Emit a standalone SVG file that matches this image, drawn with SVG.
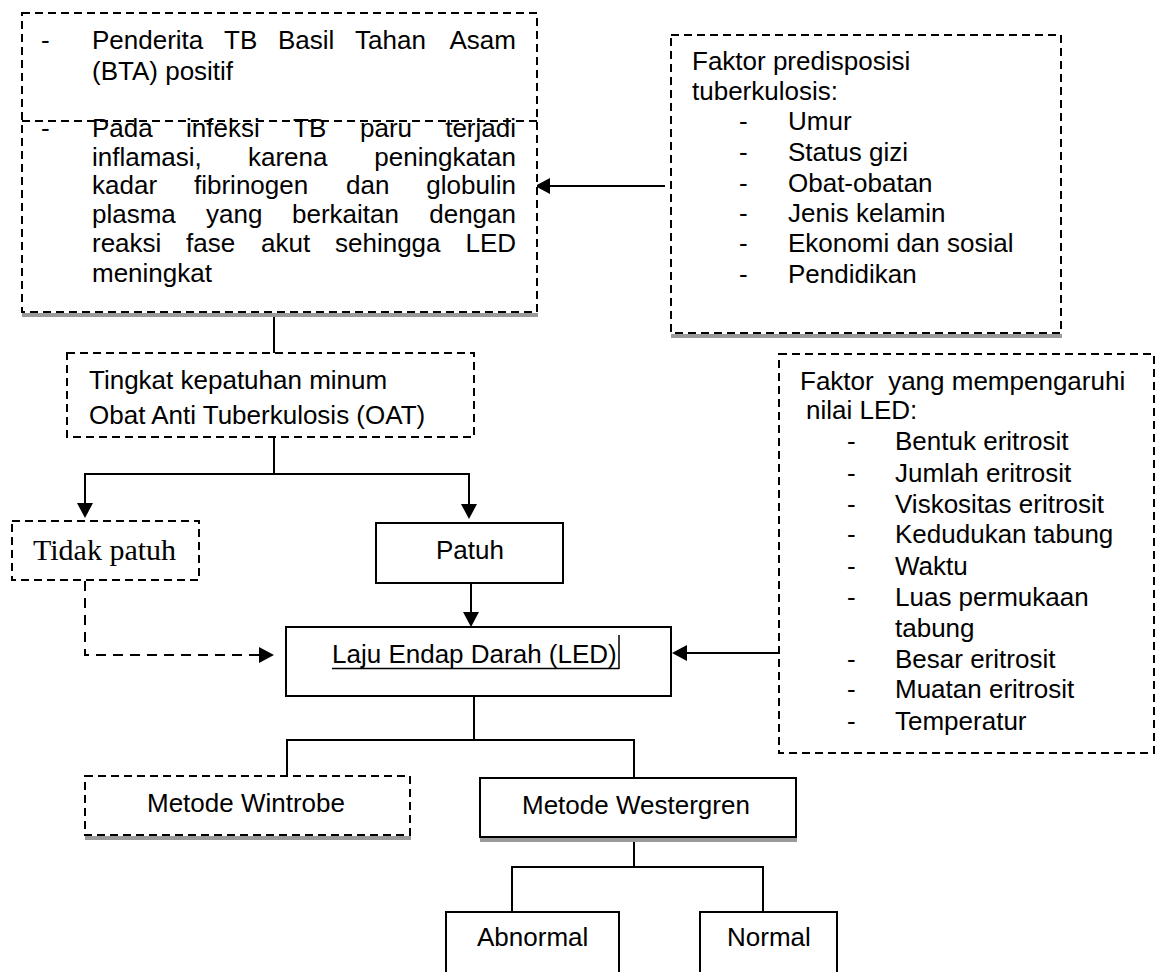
<svg xmlns="http://www.w3.org/2000/svg" width="1156" height="972" viewBox="0 0 1156 972">
<style>
.t{font-family:"Liberation Sans",Arial,sans-serif;font-size:26px;fill:#000}
.s{font-family:"Liberation Serif","Times New Roman",serif;font-size:30px;fill:#000}
.box{fill:#fff;stroke:#000;stroke-width:2}
.dbox{fill:#fff;stroke:#000;stroke-width:2;stroke-dasharray:8 5}
.shadow{fill:#9a9a9a}
.ln{fill:none;stroke:#000;stroke-width:2}
.dl{fill:none;stroke:#000;stroke-width:2;stroke-dasharray:10 7}
</style>
<defs>
<marker id="ah" markerUnits="userSpaceOnUse" markerWidth="16" markerHeight="16" refX="0" refY="8" orient="auto">
<path d="M0,0 L15,8 L0,16 z" fill="#000"/>
</marker>
</defs>
<rect width="1156" height="972" fill="#fff"/>

<g id="connectors">
<path class="ln" d="M665,186 H550" marker-end="url(#ah)"/>
<path class="ln" d="M274,313 V353"/>
<path class="ln" d="M274,437 V474"/>
<path class="ln" d="M274,474 H85 V503" marker-end="url(#ah)"/>
<path class="ln" d="M274,474 H469 V504" marker-end="url(#ah)"/>
<path class="ln" d="M471,583 V612" marker-end="url(#ah)"/>
<path class="dl" d="M85,581 V655 H259" marker-end="url(#ah)"/>
<path class="ln" d="M779,653 H687" marker-end="url(#ah)"/>
<path class="ln" d="M474,696 V740"/>
<path class="ln" d="M287,776 V740 H634 V778"/>
<path class="ln" d="M634,837 V867"/>
<path class="ln" d="M512,912 V867 H763 V912"/>
</g>

<g id="node-penderita">
<rect class="shadow" x="22" y="313" width="516" height="4"/>
<rect class="dbox" x="22" y="13" width="515" height="299"/>
<line x1="22" y1="121" x2="537" y2="121" stroke="#000" stroke-width="2" stroke-dasharray="8 5"/>
<text class="t" y="49"><tspan x="41">-</tspan><tspan x="92">Penderita</tspan><tspan x="224">TB</tspan><tspan x="278">Basil</tspan><tspan x="355">Tahan</tspan><tspan x="516" text-anchor="end">Asam</tspan></text>
<text class="t" x="92" y="80">(BTA) positif</text>
<text class="t" y="137"><tspan x="41">-</tspan><tspan x="92">Pada</tspan><tspan x="186">infeksi</tspan><tspan x="293">TB</tspan><tspan x="360">paru</tspan><tspan x="516" text-anchor="end">terjadi</tspan></text>
<text class="t" y="166"><tspan x="92">inflamasi,</tspan><tspan x="248">karena</tspan><tspan x="516" text-anchor="end">peningkatan</tspan></text>
<text class="t" y="194"><tspan x="92">kadar</tspan><tspan x="194">fibrinogen</tspan><tspan x="346">dan</tspan><tspan x="516" text-anchor="end">globulin</tspan></text>
<text class="t" y="223"><tspan x="92">plasma</tspan><tspan x="206">yang</tspan><tspan x="292">berkaitan</tspan><tspan x="516" text-anchor="end">dengan</tspan></text>
<text class="t" y="252"><tspan x="92">reaksi</tspan><tspan x="186">fase</tspan><tspan x="261">akut</tspan><tspan x="335">sehingga</tspan><tspan x="516" text-anchor="end">LED</tspan></text>
<text class="t" x="92" y="282">meningkat</text>
</g>

<g id="node-predisposisi">
<rect class="shadow" x="671" y="334" width="391" height="4"/>
<rect class="dbox" x="671" y="35" width="390" height="298"/>
<text class="t" x="692" y="70">Faktor predisposisi</text>
<text class="t" x="692" y="100">tuberkulosis:</text>
<text class="t" y="130"><tspan x="739">-</tspan><tspan x="788">Umur</tspan></text>
<text class="t" y="161"><tspan x="739">-</tspan><tspan x="788">Status gizi</tspan></text>
<text class="t" y="192"><tspan x="739">-</tspan><tspan x="788">Obat-obatan</tspan></text>
<text class="t" y="222"><tspan x="739">-</tspan><tspan x="788">Jenis kelamin</tspan></text>
<text class="t" y="252"><tspan x="739">-</tspan><tspan x="788">Ekonomi dan sosial</tspan></text>
<text class="t" y="283"><tspan x="739">-</tspan><tspan x="788">Pendidikan</tspan></text>
</g>

<g id="node-tingkat">
<rect class="dbox" x="67" y="353" width="407" height="84"/>
<text class="t" x="89" y="389">Tingkat kepatuhan minum</text>
<text class="t" x="89" y="424">Obat Anti Tuberkulosis (OAT)</text>
</g>

<g id="node-tidak-patuh">
<rect class="dbox" x="12" y="521" width="187" height="59"/>
<text class="s" x="33" y="560">Tidak patuh</text>
</g>

<g id="node-patuh">
<rect class="box" x="376" y="523" width="187" height="60"/>
<text class="t" x="436" y="559">Patuh</text>
</g>

<g id="node-led">
<rect class="box" x="286" y="627" width="385" height="69"/>
<text class="t" x="332" y="663">Laju Endap Darah (LED)</text>
<line x1="332" y1="668.5" x2="619" y2="668.5" stroke="#000" stroke-width="1.5"/>
<line x1="619" y1="635" x2="619" y2="669" stroke="#000" stroke-width="1.5"/>
</g>

<g id="node-faktor-led">
<rect class="dbox" x="779" y="354" width="375" height="399"/>
<text class="t" x="800" y="390" style="white-space:pre">Faktor  yang mempengaruhi</text>
<text class="t" x="806" y="419">nilai LED:</text>
<text class="t" y="450"><tspan x="847">-</tspan><tspan x="895">Bentuk eritrosit</tspan></text>
<text class="t" y="482"><tspan x="847">-</tspan><tspan x="895">Jumlah eritrosit</tspan></text>
<text class="t" y="513"><tspan x="847">-</tspan><tspan x="895">Viskositas eritrosit</tspan></text>
<text class="t" y="543"><tspan x="847">-</tspan><tspan x="895">Kedudukan tabung</tspan></text>
<text class="t" y="575"><tspan x="847">-</tspan><tspan x="895">Waktu</tspan></text>
<text class="t" y="606"><tspan x="847">-</tspan><tspan x="895">Luas permukaan</tspan></text>
<text class="t" x="895" y="637">tabung</text>
<text class="t" y="668"><tspan x="847">-</tspan><tspan x="895">Besar eritrosit</tspan></text>
<text class="t" y="698"><tspan x="847">-</tspan><tspan x="895">Muatan eritrosit</tspan></text>
<text class="t" y="730"><tspan x="847">-</tspan><tspan x="895">Temperatur</tspan></text>
</g>

<g id="node-wintrobe">
<rect class="shadow" x="85" y="836" width="326" height="4"/>
<rect class="dbox" x="85" y="776" width="325" height="59"/>
<text class="t" x="147" y="812">Metode Wintrobe</text>
</g>

<g id="node-westergren">
<rect class="shadow" x="480" y="838" width="317" height="4"/>
<rect class="box" x="480" y="778" width="316" height="59"/>
<text class="t" x="522" y="814">Metode Westergren</text>
</g>

<g id="node-abnormal">
<rect class="box" x="446" y="912" width="173" height="80"/>
<text class="t" x="477" y="946">Abnormal</text>
</g>

<g id="node-normal">
<rect class="box" x="700" y="912" width="137" height="80"/>
<text class="t" x="727" y="946">Normal</text>
</g>
</svg>
